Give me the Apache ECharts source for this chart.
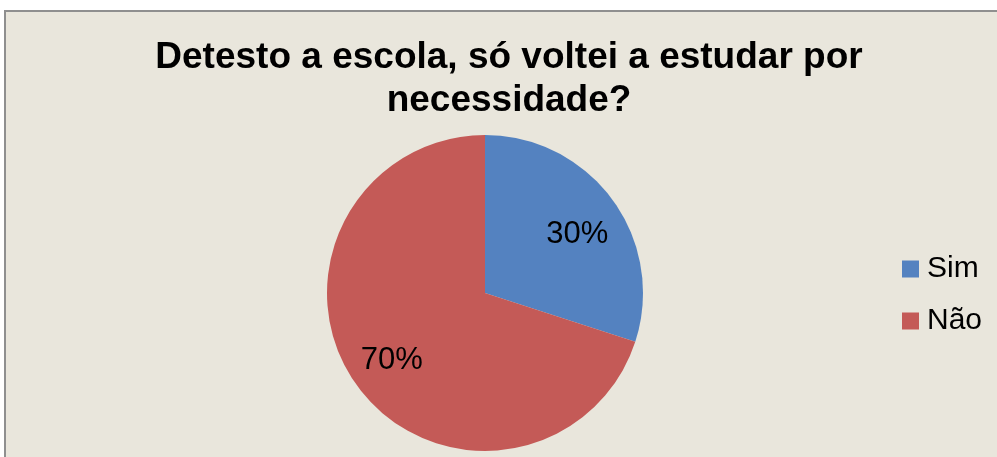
<!DOCTYPE html>
<html>
<head>
<meta charset="utf-8">
<title>Detesto a escola</title>
<script src="https://cdn.jsdelivr.net/npm/echarts@6/dist/echarts.min.js"></script>
<style>
  html, body { margin: 0; padding: 0; background: #ffffff; }
  #chart { width: 997px; height: 457px; }
</style>
</head>
<body>
<div id="chart"></div>
<script>
// Survey answers and their shares (percent)
const titleText = 'Detesto a escola, só voltei a estudar por\nnecessidade?';
const categories = ['Sim', 'Não'];
const values = [30, 70];
const colors = ['#5482C0', '#C45A57'];
// small nudges for the percentage labels, in pixels
const labelOffsets = [[0, 8], [-1, 0]];

const pieData = categories.map((name, i) => ({
  name: name,
  value: values[i],
  itemStyle: { color: colors[i] }
}));

const chart = echarts.init(document.getElementById('chart'));

chart.setOption({
  backgroundColor: '#ffffff',
  animation: false,
  graphic: [{
    type: 'rect',
    z: -10,
    shape: { x: 5, y: 11, width: 1010, height: 470 },
    style: { fill: '#E9E6DC', stroke: '#8f8f8f', lineWidth: 2 }
  }],
  title: {
    text: titleText,
    left: 504,
    top: 31,
    textAlign: 'center',
    textStyle: {
      fontFamily: 'Liberation Sans, Arial, sans-serif',
      fontWeight: 'bold',
      fontSize: 37,
      lineHeight: 43,
      color: '#000000'
    }
  },
  legend: {
    orient: 'vertical',
    left: 902,
    top: 254,
    padding: 0,
    icon: 'rect',
    itemWidth: 17,
    itemHeight: 17,
    itemGap: 22,
    textStyle: {
      fontFamily: 'Liberation Sans, Arial, sans-serif',
      fontSize: 30,
      lineHeight: 30,
      color: '#000000',
      padding: [0, 0, 0, 3]
    },
    data: categories
  },
  series: [
    {
      type: 'pie',
      center: [485, 293],
      radius: 158,
      startAngle: 90,
      clockwise: true,
      label: { show: false },
      labelLine: { show: false },
      itemStyle: { borderWidth: 0 },
      data: pieData
    },
    {
      // transparent ring used only to place the percentage labels
      type: 'pie',
      center: [485, 293],
      radius: 222,
      startAngle: 90,
      clockwise: true,
      silent: true,
      legendHoverLink: false,
      itemStyle: { color: 'rgba(0,0,0,0)' },
      label: {
        show: true,
        position: 'inside',
        formatter: '{d}%',
        fontFamily: 'Liberation Sans, Arial, sans-serif',
        fontSize: 31,
        color: '#000000'
      },
      labelLine: { show: false },
      data: categories.map((name, i) => ({
        name: name,
        value: values[i],
        label: { offset: labelOffsets[i] }
      }))
    }
  ]
});
</script>
</body>
</html>
